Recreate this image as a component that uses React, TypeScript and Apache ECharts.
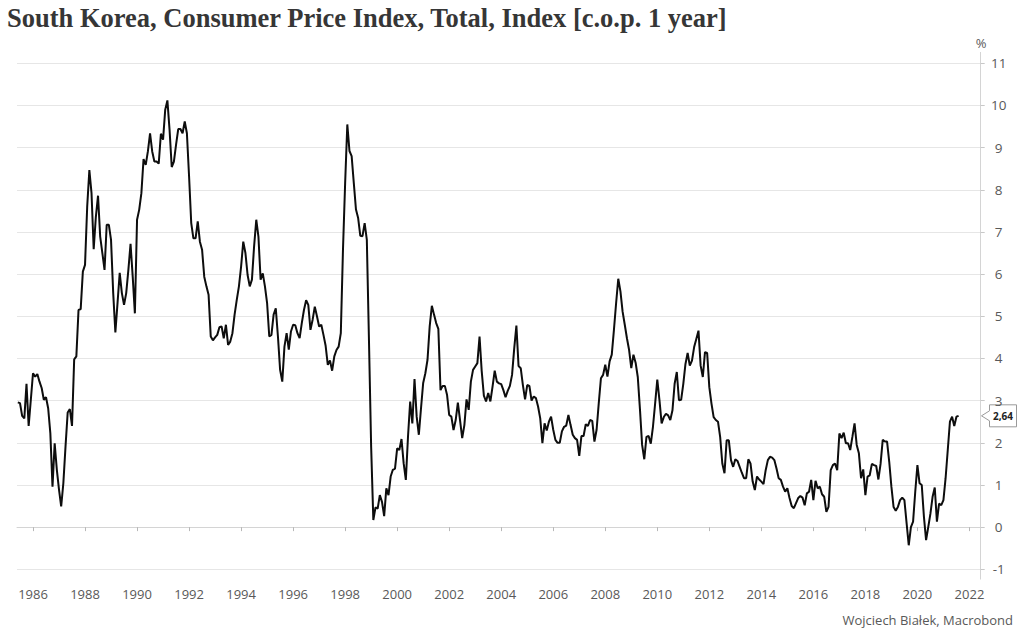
import React, { useEffect, useRef } from "react";
import * as echarts from "echarts";

// Monthly CPI y/y (%), starting June 1985
const startYear = 1985;
const startMonth = 6;

const cpi1985_1989 = [
  2.96, 2.94, 2.64, 2.58, 3.4, 2.4, 3.02,
  3.65, 3.57, 3.63, 3.45, 3.3, 3.02, 3.08, 2.82, 2.23, 0.96, 1.99, 1.36,
  0.89, 0.49, 1.04, 1.91, 2.72, 2.8, 2.4, 3.98, 4.05, 5.15, 5.17, 6.06,
  6.22, 7.6, 8.47, 7.92, 6.59, 7.36, 7.86, 6.89, 6.5, 6.1, 7.17, 7.17,
  6.81, 5.55, 4.62, 5.32, 6.03, 5.55, 5.27, 5.55, 6.1, 6.72, 5.94, 5.07,
];
const cpi1990_1994 = [
  7.29, 7.53, 7.92, 8.73, 8.59, 8.91, 9.34, 8.91, 8.67, 8.67, 8.62, 9.33,
  9.19, 9.9, 10.12, 9.42, 8.54, 8.67, 9.07, 9.44, 9.44, 9.34, 9.62, 9.34,
  8.32, 7.21, 6.85, 6.85, 7.25, 6.77, 6.58, 5.94, 5.71, 5.51, 4.52, 4.43,
  4.5, 4.56, 4.74, 4.76, 4.48, 4.8, 4.32, 4.4, 4.6, 5.04, 5.39, 5.71,
  6.18, 6.77, 6.5, 5.98, 5.71, 5.87, 6.66, 7.29, 6.89, 5.87, 6.02, 5.71,
];
const cpi1995_1999 = [
  5.31, 4.52, 4.56, 5.04, 5.19, 4.52, 3.73, 3.45, 4.28, 4.6, 4.21, 4.64,
  4.8, 4.79, 4.6, 4.48, 4.84, 5.15, 5.38, 5.27, 4.68, 4.92, 5.23, 5.0,
  4.76, 4.8, 4.56, 4.3, 3.85, 3.95, 3.71, 4.05, 4.2, 4.28, 4.6, 6.58,
  8.16, 9.55, 8.92, 8.8, 8.16, 7.53, 7.33, 6.91, 6.9, 7.21, 6.82, 4.4,
  1.9, 0.17, 0.47, 0.44, 0.76, 0.6, 0.26, 0.92, 0.76, 1.2, 1.36, 1.39,
];
const cpi2000_2004 = [
  1.87, 1.83, 2.09, 1.51, 1.12, 2.15, 2.98, 2.46, 3.51, 2.62, 2.19, 2.82,
  3.42, 3.65, 3.97, 4.76, 5.25, 5.04, 4.84, 4.7, 3.25, 3.35, 3.35, 3.14,
  2.66, 2.62, 2.3, 2.54, 2.95, 2.54, 2.11, 2.42, 3.03, 2.78, 3.45, 3.73,
  3.81, 3.89, 4.52, 3.7, 3.12, 2.98, 3.18, 2.98, 3.33, 3.71, 3.45, 3.41,
  3.39, 3.25, 3.08, 3.23, 3.35, 3.61, 4.24, 4.78, 3.82, 3.77, 3.37, 3.03,
];
const cpi2005_2009 = [
  3.37, 3.35, 3.0, 3.1, 3.06, 2.86, 2.58, 1.99, 2.46, 2.29, 2.5, 2.62,
  2.31, 2.07, 2.0, 2.0, 2.27, 2.38, 2.41, 2.66, 2.42, 2.19, 2.11, 2.07,
  1.69, 2.16, 2.16, 2.44, 2.4, 2.54, 2.52, 2.03, 2.31, 2.94, 3.53, 3.61,
  3.85, 3.57, 3.93, 4.09, 4.68, 5.31, 5.89, 5.59, 5.11, 4.8, 4.48, 4.2,
  3.77, 4.09, 3.9, 3.56, 2.8, 1.95, 1.61, 2.14, 2.16, 1.98, 2.38, 2.93,
];
const cpi2010_2014 = [
  3.5, 3.01, 2.46, 2.61, 2.69, 2.65, 2.54, 2.77, 3.4, 3.68, 3.01, 3.02,
  3.4, 3.87, 4.13, 3.83, 3.95, 4.27, 4.46, 4.66, 3.83, 3.56, 4.15, 4.13,
  3.32, 2.93, 2.61, 2.54, 2.5, 2.14, 1.51, 1.28, 2.06, 2.06, 1.59, 1.43,
  1.61, 1.57, 1.43, 1.29, 1.16, 1.16, 1.61, 1.51, 1.08, 0.88, 1.2, 1.13,
  1.08, 1.02, 1.35, 1.59, 1.67, 1.65, 1.59, 1.39, 1.16, 1.12, 0.96, 0.84,
];
const cpi2015_2019 = [
  0.92, 0.69, 0.5, 0.45, 0.57, 0.69, 0.74, 0.7, 0.52, 0.8, 0.84, 1.12,
  0.64, 1.1, 0.92, 0.96, 0.78, 0.72, 0.36, 0.48, 1.35, 1.47, 1.51, 1.35,
  2.22, 2.11, 2.24, 1.99, 1.99, 1.83, 2.14, 2.46, 1.95, 1.75, 1.16, 1.37,
  0.76, 1.2, 1.23, 1.5, 1.47, 1.45, 1.13, 1.5, 2.07, 2.03, 2.03, 1.55,
  0.96, 0.48, 0.39, 0.48, 0.64, 0.7, 0.64, 0.1, -0.43, 0.0, 0.13, 0.84,
];
const cpi2020_2021 = [
  1.47, 1.04, 1.0, 0.25, -0.31, 0.0, 0.32, 0.72, 0.94, 0.13, 0.56, 0.52,
  0.64, 1.16, 1.83, 2.5, 2.62, 2.4, 2.62, 2.64,
];

const xTickYears = [
  1986, 1988, 1990, 1992, 1994, 1996, 1998, 2000, 2002, 2004,
  2006, 2008, 2010, 2012, 2014, 2016, 2018, 2020, 2022,
];
const xMin = 1985.385;
const xMax = 2022.433;
const yMin = -1;
const yMax = 11;

const titleText = "South Korea, Consumer Price Index, Total, Index [c.o.p. 1 year]";
const unitText = "%";
const sourceText = "Wojciech Białek, Macrobond";
const lastValueText = "2,64";

const labelFont = "'Open Sans', 'Noto Sans', sans-serif";

export default function App() {
  const ref = useRef<HTMLDivElement>(null);

  useEffect(() => {
    document.body.style.margin = "0";
    const chart = echarts.init(ref.current as HTMLDivElement, null, { renderer: "svg" });
    const values = [
      ...cpi1985_1989,
      ...cpi1990_1994,
      ...cpi1995_1999,
      ...cpi2000_2004,
      ...cpi2005_2009,
      ...cpi2010_2014,
      ...cpi2015_2019,
      ...cpi2020_2021,
    ];
    const data = values.map((v, i) => [startYear + (startMonth - 1 + i) / 12, v]);

    chart.setOption({
      animation: false,
      backgroundColor: "#ffffff",
      grid: { left: 17, right: 43.3, top: 63.3, bottom: 70.7, containLabel: false },
      xAxis: {
        type: "value",
        min: xMin,
        max: xMax,
        offset: 10,
        axisLine: { show: true, lineStyle: { color: "#d4d4d4", width: 1 } },
        axisTick: {
          show: true,
          length: 4,
          lineStyle: { color: "#b8b8b8" },
          customValues: xTickYears,
        },
        axisLabel: {
          customValues: xTickYears,
          formatter: (v: number) => String(Math.round(v)),
          color: "#595959",
          fontSize: 13,
          fontFamily: labelFont,
          margin: 8,
        },
        splitLine: { show: false },
      },
      yAxis: {
        type: "value",
        position: "right",
        min: yMin,
        max: yMax,
        interval: 1,
        axisLine: { show: false },
        axisTick: { show: true, length: 4, lineStyle: { color: "#c8c8c8" } },
        axisLabel: {
          color: "#595959",
          fontSize: 13.5,
          fontFamily: labelFont,
          margin: 18,
          align: "center",
        },
        splitLine: { show: true, lineStyle: { color: "#e6e6e6", width: 1 } },
      },
      series: [
        {
          type: "line",
          data,
          showSymbol: false,
          symbol: "none",
          lineStyle: { color: "#0d0d0d", width: 2 },
          silent: true,
        },
      ],
    });

    const last = values[values.length - 1];
    const py = chart.convertToPixel({ yAxisIndex: 0 }, last) as number;

    chart.setOption({
      graphic: [
        {
          type: "text",
          left: 7,
          top: 4,
          style: {
            text: titleText,
            font: "bold 26.5px 'Liberation Serif', 'DejaVu Serif', serif",
            fill: "#363636",
          },
        },
        {
          type: "text",
          x: 981,
          y: 43,
          style: {
            text: unitText,
            font: `13px ${labelFont}`,
            fill: "#595959",
            align: "center",
            verticalAlign: "middle",
          },
        },
        {
          type: "line",
          shape: { x1: 980.5, y1: 52, x2: 980.5, y2: 579.5 },
          style: { stroke: "#d4d4d4", lineWidth: 1 },
        },
        {
          type: "text",
          x: 1013,
          y: 620,
          style: {
            text: sourceText,
            font: `13px ${labelFont}`,
            fill: "#595959",
            align: "right",
            verticalAlign: "middle",
          },
        },
        {
          type: "polygon",
          shape: {
            points: [
              [989.5, py - 11],
              [1016.5, py - 11],
              [1016.5, py + 11],
              [989.5, py + 11],
              [989.5, py + 5],
              [981.5, py],
              [989.5, py - 5],
            ],
          },
          style: { fill: "#ffffff", stroke: "#9a9a9a", lineWidth: 1 },
        },
        {
          type: "text",
          x: 1003,
          y: py,
          style: {
            text: lastValueText,
            font: `bold 10px ${labelFont}`,
            fill: "#222222",
            align: "center",
            verticalAlign: "middle",
          },
        },
      ],
    });

    return () => chart.dispose();
  }, []);

  return <div ref={ref} style={{ width: 1024, height: 640 }} />;
}
